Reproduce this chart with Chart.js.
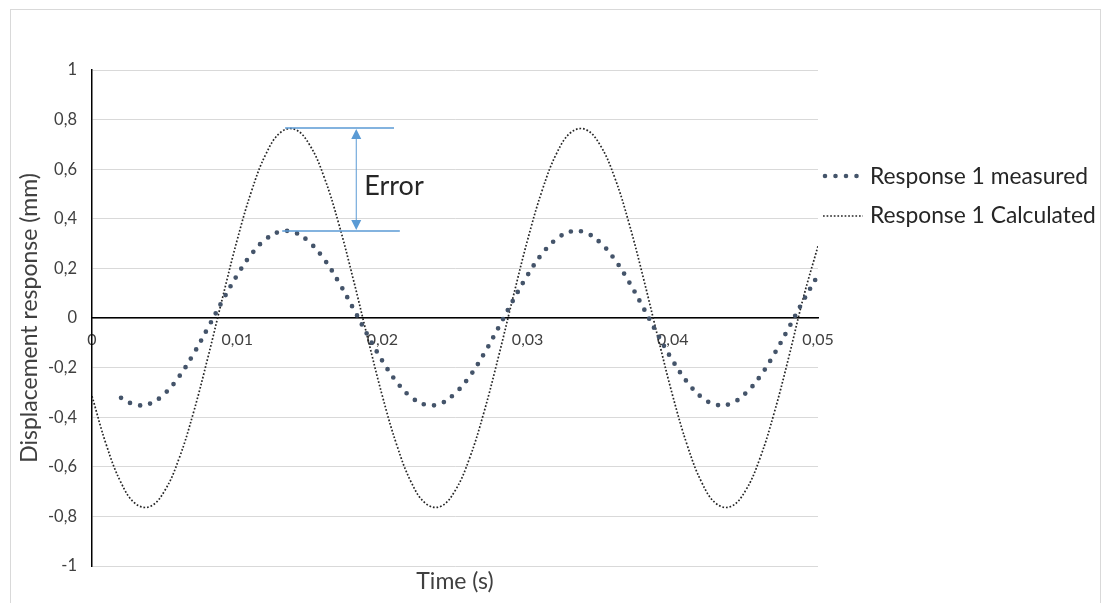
<!DOCTYPE html>
<html>
<head>
<meta charset="utf-8">
<script src="https://cdn.jsdelivr.net/npm/chart.js@4.4.1/dist/chart.umd.min.js"></script>
<style>
  html, body { margin: 0; padding: 0; background: #ffffff; }
  #wrap { width: 1104px; height: 603px; }
</style>
</head>
<body>
<div id="wrap"><canvas id="c" width="1104" height="603"></canvas></div>
<script>
// ---- data ----
const measuredTime = [0.002,0.003,0.004,0.005,0.006,0.007,0.008,0.009,0.010,0.011,
  0.012,0.013,0.014,0.015,0.016,0.017,0.018,0.019,0.020,0.021,
  0.022,0.023,0.024,0.025,0.026,0.027,0.028,0.029,0.030,0.031,
  0.032,0.033,0.034,0.035,0.036,0.037,0.038,0.039,0.040,0.041,
  0.042,0.043,0.044,0.045,0.046,0.047,0.048,0.049,0.050];
const measuredValues = [-0.322,-0.350,-0.345,-0.305,-0.236,-0.144,-0.038,0.071,0.173,0.259,
  0.319,0.349,0.344,0.304,0.236,0.144,0.038,-0.071,-0.173,-0.259,
  -0.320,-0.350,-0.345,-0.304,-0.236,-0.144,-0.038,0.071,0.173,0.259,
  0.319,0.349,0.344,0.304,0.236,0.144,0.038,-0.071,-0.173,-0.259,
  -0.320,-0.350,-0.345,-0.304,-0.236,-0.144,-0.038,0.071,0.173];

const calculatedTime = [0.000,0.001,0.002,0.003,0.004,0.005,0.006,0.007,0.008,0.009,
  0.010,0.011,0.012,0.013,0.014,0.015,0.016,0.017,0.018,0.019,
  0.020,0.021,0.022,0.023,0.024,0.025,0.026,0.027,0.028,0.029,
  0.030,0.031,0.032,0.033,0.034,0.035,0.036,0.037,0.038,0.039,
  0.040,0.041,0.042,0.043,0.044,0.045,0.046,0.047,0.048,0.049,0.050];
const calculatedValues = [-0.315,-0.514,-0.664,-0.749,-0.760,-0.697,-0.566,-0.379,-0.155,0.084,
  0.315,0.514,0.664,0.749,0.760,0.697,0.566,0.379,0.155,-0.084,
  -0.315,-0.514,-0.664,-0.749,-0.760,-0.697,-0.566,-0.379,-0.155,0.084,
  0.315,0.514,0.664,0.749,0.760,0.697,0.566,0.379,0.155,-0.084,
  -0.315,-0.514,-0.664,-0.749,-0.760,-0.697,-0.566,-0.379,-0.155,0.084,0.290];

const seriesNames = ['Response 1 measured', 'Response 1 Calculated'];
const xTickLabels = ['0','0,01','0,02','0,03','0,04','0,05'];
const yTickLabels = ['-1','-0,8','-0,6','-0,4','-0,2','0','0,2','0,4','0,6','0,8','1'];
const xTitle = 'Time (s)';
const yTitle = 'Displacement response (mm)';

// Error annotation (data units)
const errorLabel = 'Error';
const errorTopValue = 0.766;
const errorBottomValue = 0.351;
const errorTopSpan = [0.0133, 0.0208];
const errorBottomSpan = [0.0131, 0.0212];
const errorArrowTime = 0.0182;
const errorLabelPoint = [0.01875, 0.494];

// ---- styling ----
const FONT = 'Lato, "Open Sans", sans-serif';
const MEAS_COLOR = '#44546a';
const CALC_COLOR = '#262626';
const ANNOT_COLOR = '#5b9bd5';

const framePlugin = {
  id: 'frame',
  beforeDraw(chart) {
    const ctx = chart.ctx;
    ctx.save();
    ctx.fillStyle = '#ffffff';
    ctx.fillRect(0, 0, chart.width, chart.height);
    ctx.strokeStyle = '#d9d9d9';
    ctx.lineWidth = 1;
    ctx.strokeRect(10.5, 9.5, 1090, 640);
    ctx.restore();
  }
};

const extrasPlugin = {
  id: 'extras',
  afterDraw(chart) {
    const ctx = chart.ctx;
    const xs = chart.scales.x, ys = chart.scales.y;
    const area = chart.chartArea;
    ctx.save();

    // x axis title
    ctx.fillStyle = '#404040';
    ctx.font = '23px ' + FONT;
    ctx.textAlign = 'center';
    ctx.textBaseline = 'alphabetic';
    ctx.fillText(xTitle, (area.left + area.right) / 2, 589);

    // error annotation
    ctx.strokeStyle = ANNOT_COLOR;
    ctx.fillStyle = ANNOT_COLOR;
    ctx.lineWidth = 1.5;
    const yTop = ys.getPixelForValue(errorTopValue);
    const yBot = ys.getPixelForValue(errorBottomValue);
    ctx.beginPath();
    ctx.moveTo(xs.getPixelForValue(errorTopSpan[0]), yTop);
    ctx.lineTo(xs.getPixelForValue(errorTopSpan[1]), yTop);
    ctx.moveTo(xs.getPixelForValue(errorBottomSpan[0]), yBot);
    ctx.lineTo(xs.getPixelForValue(errorBottomSpan[1]), yBot);
    ctx.stroke();
    const ax = xs.getPixelForValue(errorArrowTime);
    ctx.lineWidth = 1;
    ctx.beginPath();
    ctx.moveTo(ax, yTop + 8);
    ctx.lineTo(ax, yBot - 8);
    ctx.stroke();
    ctx.beginPath();
    ctx.moveTo(ax, yTop + 1);
    ctx.lineTo(ax - 5, yTop + 11);
    ctx.lineTo(ax + 5, yTop + 11);
    ctx.closePath();
    ctx.fill();
    ctx.beginPath();
    ctx.moveTo(ax, yBot - 1);
    ctx.lineTo(ax - 5, yBot - 11);
    ctx.lineTo(ax + 5, yBot - 11);
    ctx.closePath();
    ctx.fill();

    ctx.fillStyle = '#262626';
    ctx.font = '27px ' + FONT;
    ctx.textAlign = 'left';
    ctx.textBaseline = 'alphabetic';
    ctx.fillText(errorLabel, xs.getPixelForValue(errorLabelPoint[0]), ys.getPixelForValue(errorLabelPoint[1]));

    // legend
    const lx = area.right + 7;
    ctx.strokeStyle = MEAS_COLOR;
    ctx.lineWidth = 4.6;
    ctx.lineCap = 'round';
    ctx.setLineDash([0, 10.5]);
    ctx.beginPath();
    ctx.moveTo(lx, 176);
    ctx.lineTo(lx + 33, 176);
    ctx.stroke();
    ctx.strokeStyle = CALC_COLOR;
    ctx.lineWidth = 1.7;
    ctx.lineCap = 'butt';
    ctx.setLineDash([1.7, 1.9]);
    ctx.beginPath();
    ctx.moveTo(lx - 2, 216);
    ctx.lineTo(lx + 38, 216);
    ctx.stroke();
    ctx.setLineDash([]);
    ctx.fillStyle = '#262626';
    ctx.font = '22.8px ' + FONT;
    ctx.textAlign = 'left';
    ctx.fillText(seriesNames[0], area.right + 52, 184);
    ctx.fillText(seriesNames[1], area.right + 52, 223);
    ctx.restore();
  }
};

const chart = new Chart(document.getElementById('c'), {
  type: 'line',
  data: {
    datasets: [
      {
        label: seriesNames[0],
        data: measuredTime.map((t, i) => ({ x: t, y: measuredValues[i] })),
        borderColor: MEAS_COLOR,
        borderWidth: 4.7,
        borderDash: [0, 10.3],
        borderCapStyle: 'round',
        pointRadius: 0,
        tension: 0.4,
        fill: false
      },
      {
        label: seriesNames[1],
        data: calculatedTime.map((t, i) => ({ x: t, y: calculatedValues[i] })),
        borderColor: CALC_COLOR,
        borderWidth: 1.7,
        borderDash: [1.7, 1.9],
        pointRadius: 0,
        tension: 0.4,
        fill: false
      }
    ]
  },
  options: {
    responsive: false,
    animation: false,
    devicePixelRatio: 1,
    layout: { padding: { left: 10, right: 286, top: 70, bottom: 37 } },
    plugins: { legend: { display: false }, tooltip: { enabled: false } },
    scales: {
      x: {
        type: 'linear',
        min: 0, max: 0.05,
        position: { y: 0 },
        grid: { display: false, drawTicks: false },
        border: { display: true, color: '#000000', width: 1.5 },
        ticks: {
          stepSize: 0.01,
          padding: 12,
          color: '#404040',
          font: { family: FONT, size: 16 },
          maxRotation: 0,
          callback: (v, i) => xTickLabels[i]
        }
      },
      y: {
        type: 'linear',
        min: -1, max: 1,
        afterFit: (s) => { s.width = 82; },
        grid: { color: '#d9d9d9', lineWidth: 1, drawTicks: false },
        border: { display: true, color: '#000000', width: 1.5 },
        ticks: {
          stepSize: 0.2,
          padding: 15,
          color: '#404040',
          font: { family: FONT, size: 16.5 },
          callback: (v, i) => yTickLabels[i]
        },
        title: {
          display: true,
          text: yTitle,
          color: '#404040',
          font: { family: FONT, size: 23 },
          padding: { top: 6, bottom: 0 }
        }
      }
    }
  },
  plugins: [framePlugin, extrasPlugin]
});
</script>
</body>
</html>
